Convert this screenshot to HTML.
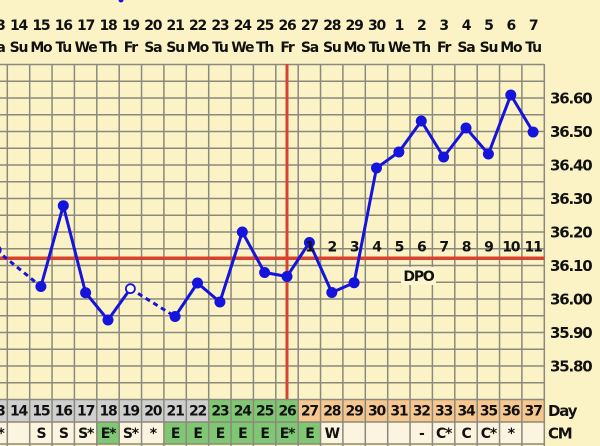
<!DOCTYPE html>
<html><head><meta charset="utf-8"><style>
html,body{margin:0;padding:0;background:#fbf3c6;}
svg{display:block;}
text{font-family:"DejaVu Sans","Liberation Sans",sans-serif;font-weight:bold;fill:#111;}
.h{font-size:14px;letter-spacing:-1.2px;text-anchor:middle;}
.t{font-size:15px;letter-spacing:-1.2px;}
</style></head><body>
<svg width="600" height="446" viewBox="0 0 600 446" xmlns="http://www.w3.org/2000/svg">
<rect x="0" y="0" width="600" height="446" fill="#fbf3c6"/>
<circle cx="121" cy="0" r="2.5" fill="#1414dc"/>
<g>
<text x="-3.9" y="30" class="h">13</text><text x="18.5" y="30" class="h">14</text><text x="40.9" y="30" class="h">15</text><text x="63.3" y="30" class="h">16</text><text x="85.6" y="30" class="h">17</text><text x="108" y="30" class="h">18</text><text x="130.4" y="30" class="h">19</text><text x="152.8" y="30" class="h">20</text><text x="175.1" y="30" class="h">21</text><text x="197.5" y="30" class="h">22</text><text x="219.9" y="30" class="h">23</text><text x="242.3" y="30" class="h">24</text><text x="264.6" y="30" class="h">25</text><text x="287" y="30" class="h">26</text><text x="309.4" y="30" class="h">27</text><text x="331.8" y="30" class="h">28</text><text x="354.1" y="30" class="h">29</text><text x="376.5" y="30" class="h">30</text><text x="398.9" y="30" class="h">1</text><text x="421.3" y="30" class="h">2</text><text x="443.6" y="30" class="h">3</text><text x="466" y="30" class="h">4</text><text x="488.4" y="30" class="h">5</text><text x="510.8" y="30" class="h">6</text><text x="533.1" y="30" class="h">7</text>
<text x="-3.9" y="52" class="h">Sa</text><text x="18.5" y="52" class="h">Su</text><text x="40.9" y="52" class="h">Mo</text><text x="63.3" y="52" class="h">Tu</text><text x="85.6" y="52" class="h">We</text><text x="108" y="52" class="h">Th</text><text x="130.4" y="52" class="h">Fr</text><text x="152.8" y="52" class="h">Sa</text><text x="175.1" y="52" class="h">Su</text><text x="197.5" y="52" class="h">Mo</text><text x="219.9" y="52" class="h">Tu</text><text x="242.3" y="52" class="h">We</text><text x="264.6" y="52" class="h">Th</text><text x="287" y="52" class="h">Fr</text><text x="309.4" y="52" class="h">Sa</text><text x="331.8" y="52" class="h">Su</text><text x="354.1" y="52" class="h">Mo</text><text x="376.5" y="52" class="h">Tu</text><text x="398.9" y="52" class="h">We</text><text x="421.3" y="52" class="h">Th</text><text x="443.6" y="52" class="h">Fr</text><text x="466" y="52" class="h">Sa</text><text x="488.4" y="52" class="h">Su</text><text x="510.8" y="52" class="h">Mo</text><text x="533.1" y="52" class="h">Tu</text>
</g>
<rect x="0" y="399.5" width="208.7" height="22.5" fill="#cfcfcf"/>
<rect x="208.7" y="399.5" width="89.5" height="22.5" fill="#80c774"/>
<rect x="298.2" y="399.5" width="246.1" height="22.5" fill="#f6c890"/>
<rect x="0" y="422" width="544.3" height="22" fill="#fcf4de"/>
<rect x="96.8" y="422" width="22.4" height="22" fill="#80c774"/>
<rect x="163.9" y="422" width="156.7" height="22" fill="#80c774"/>
<path fill="none" stroke="#8b897c" stroke-width="1.5" d="
M7.3 64V446M29.7 64V446M52.05 64V446M74.4 64V446M96.8 64V446M119.2 64V446M141.55 64V446M163.9 64V446M186.3 64V446M208.7 64V446M231.05 64V446M253.4 64V446M275.8 64V446M298.2 64V446M320.55 64V446M342.9 64V446M365.3 64V446M387.7 64V446M410.05 64V446M432.4 64V446M454.8 64V446M477.2 64V446M499.55 64V446M521.9 64V446M544.3 64V446
M0 64.5H544.3M0 81.25H544.3M0 98H544.3M0 114.75H544.3M0 131.5H544.3M0 148.25H544.3M0 165H544.3M0 181.75H544.3M0 198.5H544.3M0 215.25H544.3M0 232H544.3M0 248.75H544.3M0 265.5H544.3M0 282.25H544.3M0 299H544.3M0 315.75H544.3M0 332.5H544.3M0 349.25H544.3M0 366H544.3M0 382.75H544.3M0 399.5H544.3M0 422H544.3M0 444H544.3"/>
<line x1="287" y1="64" x2="287" y2="399" stroke="#d8432f" stroke-width="3"/>
<line x1="0" y1="258.3" x2="544.3" y2="258.3" stroke="#d8432f" stroke-width="3.5"/>
<rect x="401" y="267" width="35" height="18" fill="#fcf5cf"/>
<text x="418.5" y="281" class="h">DPO</text>
<g fill="none" stroke="#1414dc" stroke-width="3" stroke-linejoin="round">
<polyline points="-3.9,250 40.9,286.5" stroke-dasharray="5,4"/>
<polyline points="130.4,288.7 175.1,316.5" stroke-dasharray="5,4"/>
<polyline points="40.9,286.5 63.3,205.7 85.6,292.7 108,320 130.4,288.7"/>
<polyline points="175.1,316.5 197.5,283 219.9,302 242.3,232 264.6,272.5 287,276.5 309.4,242.5 331.8,292.5 354.1,282.7 376.5,168 398.9,152 421.3,121 443.6,157 466,128 488.4,154 510.8,95 533.1,132"/>
</g>
<g fill="#1414dc">
<circle cx="-3.9" cy="250" r="5.5"/><circle cx="40.9" cy="286.5" r="5.5"/><circle cx="63.3" cy="205.7" r="5.5"/><circle cx="85.6" cy="292.7" r="5.5"/><circle cx="108" cy="320" r="5.5"/>
<circle cx="175.1" cy="316.5" r="5.5"/><circle cx="197.5" cy="283" r="5.5"/><circle cx="219.9" cy="302" r="5.5"/><circle cx="242.3" cy="232" r="5.5"/><circle cx="264.6" cy="272.5" r="5.5"/><circle cx="287" cy="276.5" r="5.5"/><circle cx="309.4" cy="242.5" r="5.5"/><circle cx="331.8" cy="292.5" r="5.5"/><circle cx="354.1" cy="282.7" r="5.5"/><circle cx="376.5" cy="168" r="5.5"/><circle cx="398.9" cy="152" r="5.5"/><circle cx="421.3" cy="121" r="5.5"/><circle cx="443.6" cy="157" r="5.5"/><circle cx="466" cy="128" r="5.5"/><circle cx="488.4" cy="154" r="5.5"/><circle cx="510.8" cy="95" r="5.5"/><circle cx="533.1" cy="132" r="5.5"/>
</g>
<circle cx="130.4" cy="288.7" r="4.5" fill="#ffffff" stroke="#1414dc" stroke-width="1.8"/>
<text x="309.4" y="251.5" class="h">1</text><text x="331.8" y="251.5" class="h">2</text><text x="354.1" y="251.5" class="h">3</text><text x="376.5" y="251.5" class="h">4</text><text x="398.9" y="251.5" class="h">5</text><text x="421.3" y="251.5" class="h">6</text><text x="443.6" y="251.5" class="h">7</text><text x="466" y="251.5" class="h">8</text><text x="488.4" y="251.5" class="h">9</text><text x="510.8" y="251.5" class="h">10</text><text x="533.1" y="251.5" class="h">11</text>
<text x="550" y="103.5" class="t">36.60</text>
<text x="550" y="137" class="t">36.50</text>
<text x="550" y="170.5" class="t">36.40</text>
<text x="550" y="204" class="t">36.30</text>
<text x="550" y="237.5" class="t">36.20</text>
<text x="550" y="271" class="t">36.10</text>
<text x="550" y="304.5" class="t">36.00</text>
<text x="550" y="338" class="t">35.90</text>
<text x="550" y="371.5" class="t">35.80</text>
<text x="-3.9" y="415.5" class="h">13</text><text x="18.5" y="415.5" class="h">14</text><text x="40.9" y="415.5" class="h">15</text><text x="63.3" y="415.5" class="h">16</text><text x="85.6" y="415.5" class="h">17</text><text x="108" y="415.5" class="h">18</text><text x="130.4" y="415.5" class="h">19</text><text x="152.8" y="415.5" class="h">20</text><text x="175.1" y="415.5" class="h">21</text><text x="197.5" y="415.5" class="h">22</text><text x="219.9" y="415.5" class="h">23</text><text x="242.3" y="415.5" class="h">24</text><text x="264.6" y="415.5" class="h">25</text><text x="287" y="415.5" class="h">26</text><text x="309.4" y="415.5" class="h">27</text><text x="331.8" y="415.5" class="h">28</text><text x="354.1" y="415.5" class="h">29</text><text x="376.5" y="415.5" class="h">30</text><text x="398.9" y="415.5" class="h">31</text><text x="421.3" y="415.5" class="h">32</text><text x="443.6" y="415.5" class="h">33</text><text x="466" y="415.5" class="h">34</text><text x="488.4" y="415.5" class="h">35</text><text x="510.8" y="415.5" class="h">36</text><text x="533.1" y="415.5" class="h">37</text>
<text x="548" y="416" class="t">Day</text>
<text x="-3.9" y="438" class="h">S*</text><text x="40.9" y="438" class="h">S</text><text x="63.3" y="438" class="h">S</text><text x="85.6" y="438" class="h">S*</text><text x="108" y="438" class="h">E*</text><text x="130.4" y="438" class="h">S*</text><text x="152.8" y="438" class="h">*</text><text x="175.1" y="438" class="h">E</text><text x="197.5" y="438" class="h">E</text><text x="219.9" y="438" class="h">E</text><text x="242.3" y="438" class="h">E</text><text x="264.6" y="438" class="h">E</text><text x="287" y="438" class="h">E*</text><text x="309.4" y="438" class="h">E</text><text x="331.8" y="438" class="h">W</text><text x="421.3" y="438" class="h">-</text><text x="443.6" y="438" class="h">C*</text><text x="466" y="438" class="h">C</text><text x="488.4" y="438" class="h">C*</text><text x="510.8" y="438" class="h">*</text>
<text x="548" y="438.5" class="t">CM</text>
</svg>
</body></html>
